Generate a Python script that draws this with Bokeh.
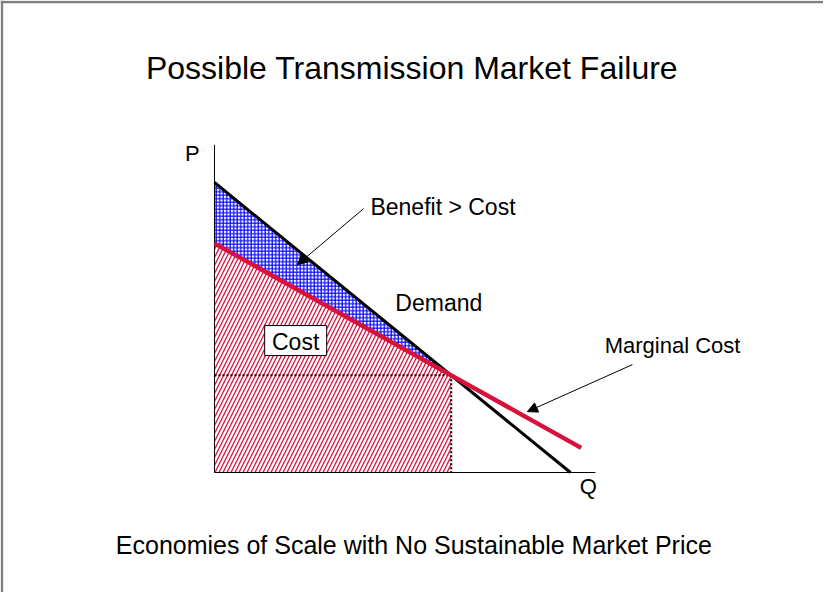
from bokeh.plotting import figure
from bokeh.models import Arrow, NormalHead, Label, Span
from bokeh.core.properties import value
from bokeh.embed import file_html
from bokeh.resources import INLINE

# ---- data (Q, P units) ----
demand_q = [0, 10]
demand_p = [10, 0]
mc_q = [0, 6.65, 10.3]
mc_p = [7.9, 3.35, 0.85]
eq_q = 6.65
eq_p = 3.35
cost_q = [0, 6.65, 6.65, 0]
cost_p = [7.9, 3.35, 0, 0]
benefit_q = [0, 6.65, 0]
benefit_p = [10, 3.35, 7.9]
axis_q_max = 10.7
axis_p_max = 11.3

title_text = "Possible Transmission Market Failure"
subtitle_text = "Economies of Scale with No Sustainable Market Price"

FONT = "Liberation Sans"
RED = "#D8103C"

p = figure(width=823, height=592, x_range=(-6.011, 17.107), y_range=(-4.138, 16.276),
           output_backend="svg", toolbar_location=None, min_border=0,
           x_axis_location=None, y_axis_location=None, outline_line_color=None)
p.grid.visible = False

# slide border (top and left)
p.add_layout(Span(location=-6.011 + 0.04, dimension="height", line_color="#808080", line_width=2.5))
p.add_layout(Span(location=16.276 - 0.05, dimension="width", line_color="#808080", line_width=2.5))

# shaded areas
p.patch(cost_q, cost_p, fill_color="white", line_color=None,
        hatch_pattern="/", hatch_color=RED, hatch_scale=8, hatch_weight=1.3)
p.patch(benefit_q, benefit_p, fill_color="white", line_color=None,
        hatch_pattern="+", hatch_color="blue", hatch_scale=3.5, hatch_weight=1.2)

# dotted guides
p.line([0, eq_q], [eq_p, eq_p], line_color="black", line_width=2, line_dash="2 2")
p.line([eq_q, eq_q], [eq_p, 0], line_color="black", line_width=2, line_dash="2 2")

# axes
p.line([0, 0], [0, axis_p_max], line_color="black", line_width=1)
p.line([0, axis_q_max], [0, 0], line_color="black", line_width=1.2)

# curves
p.line(demand_q, demand_p, line_color="black", line_width=3)
p.line(mc_q, mc_p, line_color=RED, line_width=4.5)

# Cost box
p.rect(x=[2.28], y=[4.55], width=62, height=30, width_units="screen", height_units="screen",
       fill_color="white", line_color="black", line_width=1)
p.text(x=[2.28], y=[4.5], text=["Cost"], text_font=value(FONT), text_font_size="23px",
       text_align="center", text_baseline="middle", text_color="black")

# texts
def txt(x, y, s, size, align="left"):
    p.add_layout(Label(x=x, y=y, text=s, text_font=FONT, text_font_size=size,
                       text_align=align, text_baseline="middle", text_color="black"))

txt(5.55, 13.95, title_text, "32px", "center")
txt(5.6, -2.5, subtitle_text, "25px", "center")
txt(-0.62, 11.0, "P", "22px", "center")
txt(10.5, -0.5, "Q", "22px", "center")
txt(4.38, 9.14, "Benefit > Cost", "23px")
txt(5.08, 5.86, "Demand", "23px")
txt(10.96, 4.38, "Marginal Cost", "22px")

# arrows
p.add_layout(Arrow(end=NormalHead(size=10, fill_color="black", line_color="black"),
                   x_start=4.19, y_start=9.10, x_end=2.33, y_end=7.17, line_width=1))
p.add_layout(Arrow(end=NormalHead(size=10, fill_color="black", line_color="black"),
                   x_start=11.74, y_start=3.72, x_end=8.79, y_end=2.10, line_width=1))

open("out.html", "w").write(file_html(p, INLINE))
